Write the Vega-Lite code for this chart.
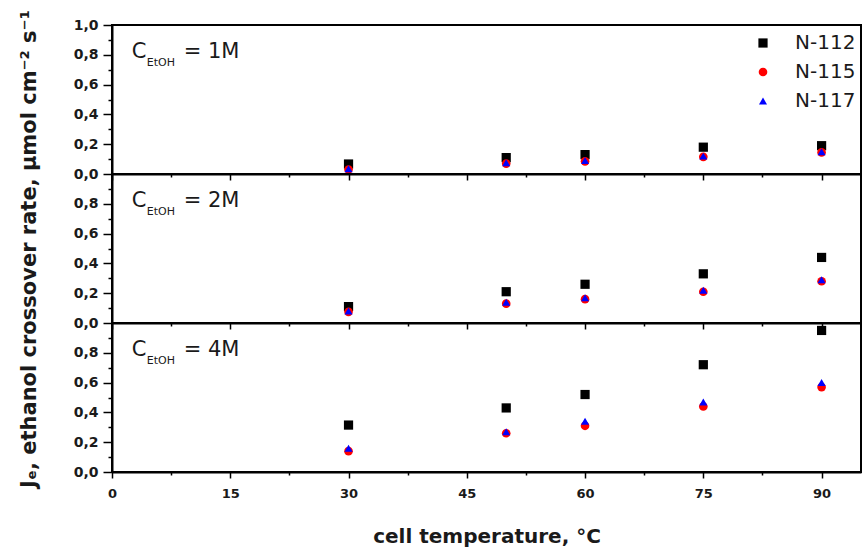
{
  "$schema": "https://vega.github.io/schema/vega-lite/v6.json",
  "padding": {"left": 16, "top": 8, "right": 1, "bottom": 0},
  "spacing": 0,
  "bounds": "flush",
  "data": {"values": [
    {"panel": "1M", "membrane": "N-112", "temp": 30, "rate": 0.067},
    {"panel": "1M", "membrane": "N-112", "temp": 50, "rate": 0.11},
    {"panel": "1M", "membrane": "N-112", "temp": 60, "rate": 0.13},
    {"panel": "1M", "membrane": "N-112", "temp": 75, "rate": 0.18},
    {"panel": "1M", "membrane": "N-112", "temp": 90, "rate": 0.19},
    {"panel": "1M", "membrane": "N-115", "temp": 30, "rate": 0.03},
    {"panel": "1M", "membrane": "N-115", "temp": 50, "rate": 0.07},
    {"panel": "1M", "membrane": "N-115", "temp": 60, "rate": 0.085},
    {"panel": "1M", "membrane": "N-115", "temp": 75, "rate": 0.115},
    {"panel": "1M", "membrane": "N-115", "temp": 90, "rate": 0.145},
    {"panel": "1M", "membrane": "N-117", "temp": 30, "rate": 0.035},
    {"panel": "1M", "membrane": "N-117", "temp": 50, "rate": 0.075},
    {"panel": "1M", "membrane": "N-117", "temp": 60, "rate": 0.09},
    {"panel": "1M", "membrane": "N-117", "temp": 75, "rate": 0.12},
    {"panel": "1M", "membrane": "N-117", "temp": 90, "rate": 0.15},
    {"panel": "2M", "membrane": "N-112", "temp": 30, "rate": 0.11},
    {"panel": "2M", "membrane": "N-112", "temp": 50, "rate": 0.21},
    {"panel": "2M", "membrane": "N-112", "temp": 60, "rate": 0.26},
    {"panel": "2M", "membrane": "N-112", "temp": 75, "rate": 0.33},
    {"panel": "2M", "membrane": "N-112", "temp": 90, "rate": 0.44},
    {"panel": "2M", "membrane": "N-115", "temp": 30, "rate": 0.075},
    {"panel": "2M", "membrane": "N-115", "temp": 50, "rate": 0.13},
    {"panel": "2M", "membrane": "N-115", "temp": 60, "rate": 0.16},
    {"panel": "2M", "membrane": "N-115", "temp": 75, "rate": 0.21},
    {"panel": "2M", "membrane": "N-115", "temp": 90, "rate": 0.28},
    {"panel": "2M", "membrane": "N-117", "temp": 30, "rate": 0.08},
    {"panel": "2M", "membrane": "N-117", "temp": 50, "rate": 0.14},
    {"panel": "2M", "membrane": "N-117", "temp": 60, "rate": 0.17},
    {"panel": "2M", "membrane": "N-117", "temp": 75, "rate": 0.22},
    {"panel": "2M", "membrane": "N-117", "temp": 90, "rate": 0.29},
    {"panel": "4M", "membrane": "N-112", "temp": 30, "rate": 0.315},
    {"panel": "4M", "membrane": "N-112", "temp": 50, "rate": 0.43},
    {"panel": "4M", "membrane": "N-112", "temp": 60, "rate": 0.52},
    {"panel": "4M", "membrane": "N-112", "temp": 75, "rate": 0.72},
    {"panel": "4M", "membrane": "N-112", "temp": 90, "rate": 0.95},
    {"panel": "4M", "membrane": "N-115", "temp": 30, "rate": 0.14},
    {"panel": "4M", "membrane": "N-115", "temp": 50, "rate": 0.26},
    {"panel": "4M", "membrane": "N-115", "temp": 60, "rate": 0.31},
    {"panel": "4M", "membrane": "N-115", "temp": 75, "rate": 0.44},
    {"panel": "4M", "membrane": "N-115", "temp": 90, "rate": 0.57},
    {"panel": "4M", "membrane": "N-117", "temp": 30, "rate": 0.16},
    {"panel": "4M", "membrane": "N-117", "temp": 50, "rate": 0.27},
    {"panel": "4M", "membrane": "N-117", "temp": 60, "rate": 0.34},
    {"panel": "4M", "membrane": "N-117", "temp": 75, "rate": 0.47},
    {"panel": "4M", "membrane": "N-117", "temp": 90, "rate": 0.60}
  ]},
  "config": {
    "view": {"stroke": "black", "strokeWidth": 2},
    "font": "DejaVu Sans",
    "axis": {
      "domainColor": "black", "domainWidth": 2, "tickColor": "black", "tickWidth": 1.5, "grid": false,
      "labelFont": "DejaVu Sans", "labelFontWeight": "bold", "labelFontSize": 13, "labelColor": "#1a1a1a",
      "titleFont": "DejaVu Sans", "titleFontWeight": "bold", "titleFontSize": 20, "titleColor": "#1a1a1a",
      "labelFlush": false, "labelOverlap": false
    },
    "axisY": {"labelFontSize": 14},
    "legend": {
      "orient": "none", "legendX": 641, "legendY": 8, "title": null, "padding": 0,
      "labelFont": "DejaVu Sans", "labelFontSize": 20, "labelColor": "#1a1a1a",
      "rowPadding": 9, "labelOffset": 22, "symbolStrokeWidth": 0
    }
  },
  "vconcat": [
    {
      "width": 749, "height": 149,
      "layer": [
        {
          "transform": [{"filter": "datum.panel == '1M'"}],
          "mark": {"type": "point", "filled": true, "opacity": 1},
          "encoding": {
            "x": {"field": "temp", "type": "quantitative", "scale": {"domain": [0, 95], "nice": false},
              "axis": {"title": null, "labels": false, "tickCount": 30, "values": [0, 7.5, 15, 22.5, 30, 37.5, 45, 52.5, 60, 67.5, 75, 82.5, 90],
                "tickSize": {"condition": {"test": "datum.value % 15 == 0", "value": 6}, "value": 3}}},
            "y": {"field": "rate", "type": "quantitative", "scale": {"domain": [0, 1], "nice": false},
              "axis": {"title": null, "tickCount": 30, "values": [0, 0.1, 0.2, 0.3, 0.4, 0.5, 0.6, 0.7, 0.8, 0.9, 1.0],
                "labelExpr": "round(datum.value*10)%2==0 ? replace(format(datum.value,'.1f'),'.',',') : ''",
                "tickSize": {"condition": {"test": "round(datum.value*10)%2==0", "value": 9}, "value": 4},
                "labelPadding": 5, "minExtent": 40, "maxExtent": 40, "labelOverlap": false}},
            "color": {"field": "membrane", "type": "nominal",
              "scale": {"domain": ["N-112", "N-115", "N-117"], "range": ["#000000", "#ff0000", "#0000ff"]}},
            "shape": {"field": "membrane", "type": "nominal",
              "scale": {"domain": ["N-112", "N-115", "N-117"], "range": ["square", "circle", "triangle-up"]}},
            "size": {"field": "membrane", "type": "nominal",
              "scale": {"domain": ["N-112", "N-115", "N-117"], "range": [85, 65, 160]}}
          }
        },
        {
          "data": {"values": [{}]},
          "mark": {"type": "text", "align": "left", "baseline": "alphabetic", "fontSize": 21, "color": "#1a1a1a"},
          "encoding": {"x": {"datum": 2.5}, "y": {"datum": 0.78}, "text": {"value": "C"}}
        },
        {
          "data": {"values": [{}]},
          "mark": {"type": "text", "align": "left", "baseline": "alphabetic", "fontSize": 11, "dx": 15, "dy": 8, "color": "#1a1a1a"},
          "encoding": {"x": {"datum": 2.5}, "y": {"datum": 0.78}, "text": {"value": "EtOH"}}
        },
        {
          "data": {"values": [{}]},
          "mark": {"type": "text", "align": "left", "baseline": "alphabetic", "fontSize": 21, "dx": 52, "color": "#1a1a1a"},
          "encoding": {"x": {"datum": 2.5}, "y": {"datum": 0.78}, "text": {"value": "= 1M"}}
        }
      ]
    },
    {
      "width": 749, "height": 149,
      "layer": [
        {
          "transform": [{"filter": "datum.panel == '2M'"}],
          "mark": {"type": "point", "filled": true, "opacity": 1},
          "encoding": {
            "x": {"field": "temp", "type": "quantitative", "scale": {"domain": [0, 95], "nice": false},
              "axis": {"title": null, "labels": false, "tickCount": 30, "values": [0, 7.5, 15, 22.5, 30, 37.5, 45, 52.5, 60, 67.5, 75, 82.5, 90],
                "tickSize": {"condition": {"test": "datum.value % 15 == 0", "value": 6}, "value": 3}}},
            "y": {"field": "rate", "type": "quantitative", "scale": {"domain": [0, 1], "nice": false},
              "axis": {"title": "Jₑ, ethanol crossover rate, µmol cm⁻² s⁻¹", "titlePadding": 33, "titleFontSize": 21,
                "tickCount": 30, "values": [0, 0.1, 0.2, 0.3, 0.4, 0.5, 0.6, 0.7, 0.8, 0.9],
                "labelExpr": "round(datum.value*10)%2==0 ? replace(format(datum.value,'.1f'),'.',',') : ''",
                "tickSize": {"condition": {"test": "round(datum.value*10)%2==0", "value": 9}, "value": 4},
                "labelPadding": 5, "minExtent": 40, "maxExtent": 40, "labelOverlap": false}},
            "color": {"field": "membrane", "type": "nominal",
              "scale": {"domain": ["N-112", "N-115", "N-117"], "range": ["#000000", "#ff0000", "#0000ff"]}},
            "shape": {"field": "membrane", "type": "nominal",
              "scale": {"domain": ["N-112", "N-115", "N-117"], "range": ["square", "circle", "triangle-up"]}},
            "size": {"field": "membrane", "type": "nominal",
              "scale": {"domain": ["N-112", "N-115", "N-117"], "range": [85, 65, 160]}}
          }
        },
        {
          "data": {"values": [{}]},
          "mark": {"type": "text", "align": "left", "baseline": "alphabetic", "fontSize": 21, "color": "#1a1a1a"},
          "encoding": {"x": {"datum": 2.5}, "y": {"datum": 0.78}, "text": {"value": "C"}}
        },
        {
          "data": {"values": [{}]},
          "mark": {"type": "text", "align": "left", "baseline": "alphabetic", "fontSize": 11, "dx": 15, "dy": 8, "color": "#1a1a1a"},
          "encoding": {"x": {"datum": 2.5}, "y": {"datum": 0.78}, "text": {"value": "EtOH"}}
        },
        {
          "data": {"values": [{}]},
          "mark": {"type": "text", "align": "left", "baseline": "alphabetic", "fontSize": 21, "dx": 52, "color": "#1a1a1a"},
          "encoding": {"x": {"datum": 2.5}, "y": {"datum": 0.78}, "text": {"value": "= 2M"}}
        }
      ]
    },
    {
      "width": 749, "height": 149,
      "layer": [
        {
          "transform": [{"filter": "datum.panel == '4M'"}],
          "mark": {"type": "point", "filled": true, "opacity": 1},
          "encoding": {
            "x": {"field": "temp", "type": "quantitative", "scale": {"domain": [0, 95], "nice": false},
              "axis": {"title": "cell temperature, °C", "titlePadding": 26, "labelPadding": 9, "labelOverlap": false, "tickCount": 30,
                "values": [0, 7.5, 15, 22.5, 30, 37.5, 45, 52.5, 60, 67.5, 75, 82.5, 90],
                "labelExpr": "datum.value % 15 == 0 ? datum.label : ''",
                "tickSize": {"condition": {"test": "datum.value % 15 == 0", "value": 6}, "value": 3}}},
            "y": {"field": "rate", "type": "quantitative", "scale": {"domain": [0, 1], "nice": false},
              "axis": {"title": null, "tickCount": 30, "values": [0, 0.1, 0.2, 0.3, 0.4, 0.5, 0.6, 0.7, 0.8, 0.9],
                "labelExpr": "round(datum.value*10)%2==0 ? replace(format(datum.value,'.1f'),'.',',') : ''",
                "tickSize": {"condition": {"test": "round(datum.value*10)%2==0", "value": 9}, "value": 4},
                "labelPadding": 5, "minExtent": 40, "maxExtent": 40, "labelOverlap": false}},
            "color": {"field": "membrane", "type": "nominal",
              "scale": {"domain": ["N-112", "N-115", "N-117"], "range": ["#000000", "#ff0000", "#0000ff"]}},
            "shape": {"field": "membrane", "type": "nominal",
              "scale": {"domain": ["N-112", "N-115", "N-117"], "range": ["square", "circle", "triangle-up"]}},
            "size": {"field": "membrane", "type": "nominal",
              "scale": {"domain": ["N-112", "N-115", "N-117"], "range": [85, 65, 160]}}
          }
        },
        {
          "data": {"values": [{}]},
          "mark": {"type": "text", "align": "left", "baseline": "alphabetic", "fontSize": 21, "color": "#1a1a1a"},
          "encoding": {"x": {"datum": 2.5}, "y": {"datum": 0.78}, "text": {"value": "C"}}
        },
        {
          "data": {"values": [{}]},
          "mark": {"type": "text", "align": "left", "baseline": "alphabetic", "fontSize": 11, "dx": 15, "dy": 8, "color": "#1a1a1a"},
          "encoding": {"x": {"datum": 2.5}, "y": {"datum": 0.78}, "text": {"value": "EtOH"}}
        },
        {
          "data": {"values": [{}]},
          "mark": {"type": "text", "align": "left", "baseline": "alphabetic", "fontSize": 21, "dx": 52, "color": "#1a1a1a"},
          "encoding": {"x": {"datum": 2.5}, "y": {"datum": 0.78}, "text": {"value": "= 4M"}}
        }
      ]
    }
  ]
}
